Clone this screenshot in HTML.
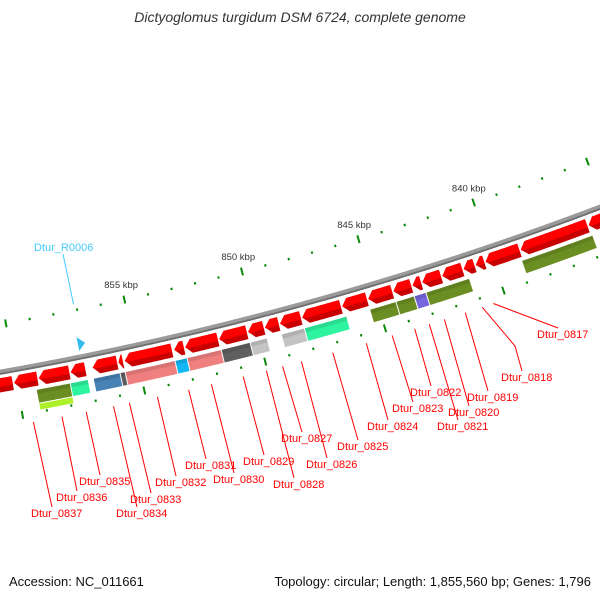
<!DOCTYPE html>
<html><head><meta charset="utf-8"><style>
html,body{margin:0;padding:0;background:#fff;}
svg{display:block;font-family:"Liberation Sans",sans-serif;}
</style></head><body>
<svg id="map" width="600" height="600" viewBox="0 0 600 600" xmlns="http://www.w3.org/2000/svg">
<rect width="600" height="600" fill="#fff"/>
<text x="300" y="22" text-anchor="middle" font-size="14" font-style="italic" fill="#333">Dictyoglomus turgidum DSM 6724, complete genome</text>
<text x="9" y="586" font-size="13" fill="#111">Accession: NC_011661</text>
<text x="591" y="586" font-size="13" text-anchor="end" fill="#111">Topology: circular; Length: 1,855,560 bp; Genes: 1,796</text>
<g id="layers"></g>
</svg>
<script>
// ---- data (kbp) ----
const arrowStart = [860.13,859.11,857.79,857.13,855.81,855.57,853.53,853.03,851.61,850.40,849.69,849.06,848.13,846.44,845.34,844.27,843.46,843.04,842.19,841.28,840.76,840.34,838.83,835.90,834.9];
const arrowEnd   = [861.6,860.13,859.11,857.79,856.88,855.81,855.55,853.49,853.03,851.61,850.40,849.69,849.06,848.13,846.44,845.34,844.27,843.46,843.04,842.19,841.28,840.76,840.34,838.83,835.90];
const arrowTag   = ["","Dtur_0837","Dtur_0836","Dtur_0835","Dtur_0834","Dtur_0833","Dtur_0832","Dtur_0831","Dtur_0830","Dtur_0829","Dtur_0828","Dtur_0827","Dtur_0826","Dtur_0825","Dtur_0824","Dtur_0823","Dtur_0822","Dtur_0821","Dtur_0820","Dtur_0819","Dtur_0818","Dtur_0817","","",""];
const cogStart = [857.87,857.13,855.81,855.60,853.53,853.03,851.61,850.40,849.69,848.13,846.35,844.27,843.50,843.00,841.15,835.86];
const cogEnd   = [859.27,857.87,856.92,855.81,855.60,853.53,853.03,851.61,850.40,849.10,848.13,845.38,844.27,843.50,843.00,838.92];
const cogColor = ["#6b8e23","#2ef3a0","#4682b4","#5f5f5f","#f08080","#11b8f5","#f08080","#5f5f5f","#c4c4c4","#c4c4c4","#2ef3a0","#6b8e23","#6b8e23","#7766dd","#6b8e23","#6b8e23"];
const row3Start = [857.87];
const row3End   = [859.27];
const row3Color = ["#aef02a"];
const trnaStart = [856.95];
const trnaEnd   = [857.25];
const majorTicks = [835,840,845,850,855,860];
const tickLabels = ["","840 kbp","845 kbp","850 kbp","855 kbp",""];
const minorTicks = [834,836,837,838,839,841,842,843,844,846,847,848,849,851,852,853,854,856,857,858,859,861];
// label layout (pixels: text x, baseline y)
const labelNames = ["Dtur_0817","Dtur_0818","Dtur_0819","Dtur_0820","Dtur_0821","Dtur_0822","Dtur_0823","Dtur_0824","Dtur_0825","Dtur_0826","Dtur_0827","Dtur_0828","Dtur_0829","Dtur_0830","Dtur_0831","Dtur_0832","Dtur_0833","Dtur_0834","Dtur_0835","Dtur_0836","Dtur_0837"];
const labelTx = [537,501,467,448,437,410,392,367,337,306,281,273,243,213,185,155,130,116,79,56,31];
const labelTy = [338,381,401,416,430,396,412,430,450,468,442,488,465,483,469,486,503,517,485,501,517];

// ---- geometry ----
const CX=-580, CY=-2910;
const R_BACK=3333, R1a=3339, R1b=3353, R2a=3357, R2b=3370, R3a=3371, R3b=3377;
const R_TICK1=3286, R_TICK2=3379;
function ang(k){return (69.19+(k-835)*0.4216)*Math.PI/180;}
function pt(k,r){const a=ang(k);return [CX+r*Math.cos(a),CY+r*Math.sin(a)];}
function arcPts(k0,k1,r){const n=Math.max(2,Math.ceil(Math.abs(k1-k0)*20));const p=[];for(let i=0;i<=n;i++){p.push(pt(k0+(k1-k0)*i/n,r));}return p;}
function ps(p){return p.map(q=>q[0].toFixed(2)+","+q[1].toFixed(2)).join(" ");}
const NS="http://www.w3.org/2000/svg";
const layers=document.getElementById("layers");
function mk(tag,attrs,parent){const e=document.createElementNS(NS,tag);for(const k in attrs)e.setAttribute(k,attrs[k]);(parent||layers).appendChild(e);return e;}
function box(k0,k1,ra,rb){return arcPts(k0,k1,ra).concat(arcPts(k1,k0,rb));}

// backbone
const bb=mk("path",{d:"M"+ps(arcPts(833,862,R_BACK)).replace(/ /g," L"),fill:"none",stroke:"#9a9a9a","stroke-width":5});


const bb2=mk("path",{d:"M"+ps(arcPts(833,862,R_BACK+1.8)).replace(/ /g," L"),fill:"none",stroke:"#6e6e6e","stroke-width":1.8});



// ticks
function drawTicks(R,ringName){
  majorTicks.forEach((k,i)=>{
    const a=pt(k,R-4),b=pt(k,R+4);
    const t=mk("line",{x1:a[0],y1:a[1],x2:b[0],y2:b[1],stroke:"#0a8a0a","stroke-width":2});
    
    
  });
  minorTicks.forEach(k=>{
    const a=pt(k,R-1.2),b=pt(k,R+1.2);
    const t=mk("line",{x1:a[0],y1:a[1],x2:b[0],y2:b[1],stroke:"#0a8a0a","stroke-width":2});
    
    
  });
}
drawTicks(R_TICK1,"outer-ruler");
drawTicks(R_TICK2,"inner-ruler");
majorTicks.forEach((k,i)=>{
  if(!tickLabels[i]) return;
  const p=pt(k,R_TICK1-15);
  const t=mk("text",{x:p[0],y:p[1]+3,"text-anchor":"middle","font-size":"9.5",fill:"#333"});
  t.textContent=tickLabels[i];
  
  
});

// forward CDS arrows
const HEAD=0.25;
arrowStart.forEach((s,i)=>{
  const k0=s+0.03,k1=arrowEnd[i]-0.03;
  const h=Math.min(HEAD,(k1-k0)*0.8);
  const rm=(R1a+R1b)/2;
  const full=arcPts(k0,k1-h,R1a).concat([pt(k1,rm)]).concat(arcPts(k1-h,k0,R1b));
  const g=mk("g",{});
  
  
  mk("polygon",{points:ps(full),fill:"#c80000"},g);
  const rb=R1a+0.6*(R1b-R1a);
  const kb=k1-h*(rb-rm)/(R1b-rm);
  const top=arcPts(k0,k1-h,R1a).concat([pt(k1,rm),pt(kb,rb)]).concat(arcPts(kb,k0,rb));
  mk("polygon",{points:ps(top),fill:"#ff0000"},g);
});

// COG row
cogStart.forEach((s,i)=>{
  const g=mk("g",{});
  
  
  mk("polygon",{points:ps(box(s+0.02,cogEnd[i]-0.02,R2a,R2b)),fill:cogColor[i]},g);
  mk("polygon",{points:ps(box(s+0.02,cogEnd[i]-0.02,R2a,R2a+4)),fill:"rgba(0,0,0,0.10)"},g);
});
row3Start.forEach((s,i)=>{
  const e=mk("polygon",{points:ps(box(s+0.02,row3End[i]-0.02,R3a,R3b)),fill:row3Color[i]});
  
  
});

// tRNA (reverse strand, inside)
trnaStart.forEach((s,i)=>{
  const e=mk("polygon",{points:ps([pt(trnaEnd[i],3313),pt(trnaEnd[i],3327),pt(s,3320)]),fill:"#33bbee"});
  
  
  const a=pt((s+trnaEnd[i])/2,3280);
  const ln=mk("line",{x1:a[0],y1:a[1],x2:63,y2:254,stroke:"#44ccff","stroke-width":1});
  
  
  const t=mk("text",{x:34,y:251,"font-size":"11",fill:"#44ccff"});
  t.textContent="Dtur_R0006";
  
  
});

// gene labels
labelNames.forEach((nm,i)=>{
  const idx=arrowTag.indexOf(nm);
  const kc=(arrowStart[idx]+arrowEnd[idx])/2;
  const a=pt(kc,3388);
  const ex=labelTx[i]+21, ey=labelTy[i]-10;
  let d="M"+a[0].toFixed(1)+","+a[1].toFixed(1);
  if(nm==="Dtur_0818") d+=" L515,346";
  d+=" L"+ex+","+ey;
  const ln=mk("path",{d:d,fill:"none",stroke:"#ff0000","stroke-width":1});
  
  
  const t=mk("text",{x:labelTx[i],y:labelTy[i],"font-size":"11",fill:"#ff0000"});
  t.textContent=nm;
  
  
});
</script>
</body></html>
